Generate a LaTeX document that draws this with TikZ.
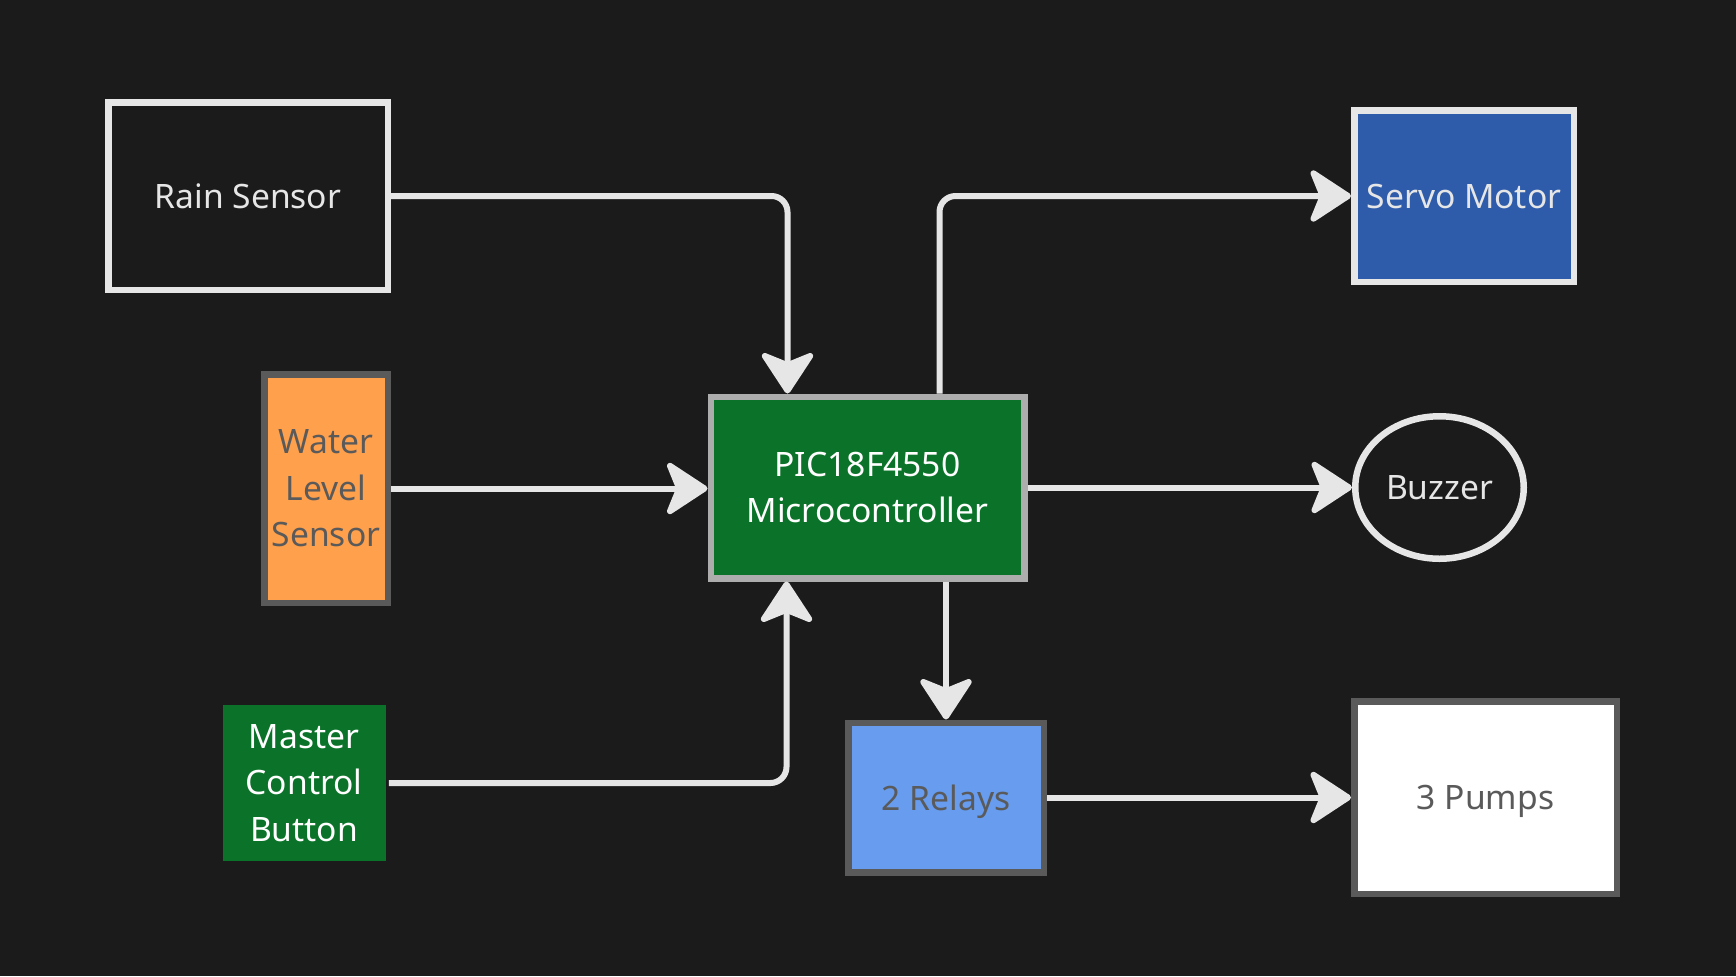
\documentclass[tikz,border=0pt]{standalone}
\usepackage{fontspec}
\setmainfont{Noto Sans}
\usepackage{xcolor}
\usetikzlibrary{arrows.meta, calc, shapes.geometric}
\definecolor{bgdark}{HTML}{1B1B1B}
\definecolor{wirelight}{HTML}{E6E6E6}
\definecolor{picgreen}{HTML}{0B7329}
\definecolor{picborder}{HTML}{ADADAD}
\definecolor{sensorange}{HTML}{FFA04D}
\definecolor{darkborder}{HTML}{5A5A5A}
\definecolor{servoblue}{HTML}{2E5BAA}
\definecolor{relayblue}{HTML}{679CEE}
\tikzset{
  %block node style
  block/.style={
    draw
    , line width=3.25pt
    , anchor=center
    , align=center
    , inner sep=0pt
    , font=\fontsize{16.8}{23.3}\selectfont
  },
  %connector style
  wire/.style={
    draw=wirelight
    , line width=3pt
    , rounded corners=8pt
    , -{Stealth[length=23pt, width=30pt, inset=6pt, round]}
  },
}

\begin{document}
\begin{tikzpicture}[x=0.5pt, y=-0.5pt]
  % background, one unit is one pixel of the reference
  \fill[bgdark] (0,0) rectangle (1736,976);
  \useasboundingbox (0,0) rectangle (1736,976);

  % inputs
  \node[block, draw=wirelight, fill=bgdark, text=wirelight
        , minimum width=139.75pt, minimum height=93.75pt] (rain) at (248,196) {Rain Sensor};
  \node[block, draw=darkborder, fill=sensorange, text=darkborder
        , minimum width=61.75pt, minimum height=114.25pt] (water) at (326,488.5) {Water\\Level\\Sensor};
  \node[block, draw=none, fill=picgreen, text=white
        , minimum width=81.5pt, minimum height=78pt] (button) at (304,783) {Master\\Control\\Button};

  % controller
  \node[block, draw=picborder, fill=picgreen, text=white
        , minimum width=156.75pt, minimum height=90.75pt] (pic) at (867.5,487.5) {PIC18F4550\\Microcontroller};

  % outputs
  \node[block, draw=wirelight, fill=servoblue, text=wirelight
        , minimum width=109.75pt, minimum height=85.75pt] (servo) at (1464,196) {Servo Motor};
  \node[block, ellipse, draw=wirelight, fill=bgdark, text=wirelight
        , minimum width=84.25pt, minimum height=71.25pt] (buzzer) at (1439.5,487.5) {Buzzer};
  \node[block, draw=darkborder, fill=relayblue, text=darkborder, text depth=0pt
        , minimum width=97.75pt, minimum height=74.75pt] (relays) at (946,797.5) {2 Relays};
  \node[block, draw=darkborder, fill=white, text=darkborder, text depth=0pt
        , minimum width=131.25pt, minimum height=96.25pt] (pumps) at (1485.5,797.5) {3 Pumps};

  % connectors
  \coordinate (picin) at ($(pic.north)+(-80,0)$);
  \coordinate (picbtn) at ($(pic.south)+(-81,0)$);
  \coordinate (picout) at ($(pic.north)+(72,0)$);
  \draw[wire] (rain.east) -| (picin);
  \draw[wire] (water.east) -- (water.east -| pic.west);
  \draw[wire] (button.east) -| (picbtn);
  \draw[wire] (picout) |- (servo.west);
  \draw[wire] (pic.east) -- (buzzer.west);
  \draw[wire] (relays.north |- pic.south) -- (relays.north);
  \draw[wire] (relays.east) -- (relays.east -| pumps.west);
\end{tikzpicture}
\end{document}
